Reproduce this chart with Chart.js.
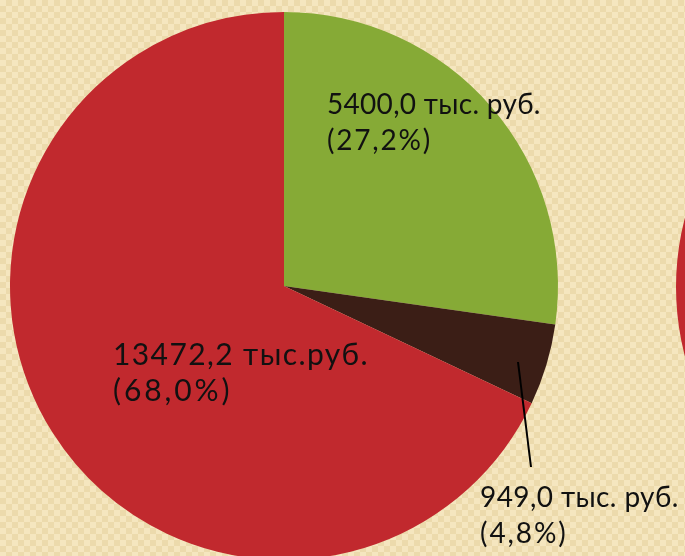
<!DOCTYPE html>
<html>
<head>
<meta charset="utf-8">
<script src="https://cdn.jsdelivr.net/npm/chart.js@4"></script>
<style>
  html, body {
    margin: 0;
    padding: 0;
    width: 685px;
    height: 556px;
    overflow: hidden;
    background-color: #F5E6BF;
    background-image:
      linear-gradient(45deg, #ECDAAC 25%, transparent 25%, transparent 75%, #ECDAAC 75%),
      linear-gradient(45deg, #ECDAAC 25%, transparent 25%, transparent 75%, #ECDAAC 75%);
    background-size: 12px 12px;
    background-position: 0 0, 6px 6px;
  }
  #pie { position: absolute; left: 0; top: 0; }
  #pie2 { position: absolute; left: 676px; top: 13px; }
</style>
</head>
<body>
<canvas id="pie" width="685" height="600"></canvas>
<canvas id="pie2" width="548" height="548"></canvas>
<script>
// данные
const categories = ["Зелёный", "Коричневый", "Красный"];
const values = [5400.0, 949.0, 13472.2];       // тыс. руб.
const shares = [27.2, 4.8, 68.0];              // %
const units = ["тыс. руб.", "тыс. руб.", "тыс.руб."];
const colors = ['#86AA36', '#3B1E16', '#C1292E'];

const fmt = v => v.toFixed(1).replace('.', ',');

// положение подписей
const labelPos = [
  { x: 327, y: 105, size: 28, sp: 0.3 },
  { x: 480, y: 498, size: 28, sp: 0.4 },
  { x: 113, y: 355, size: 30, sp: 1.4 }
];

const labelsPlugin = {
  id: 'sliceLabels',
  afterDraw(chart) {
    const ctx = chart.ctx;
    ctx.save();
    // выноска для маленького сектора
    ctx.strokeStyle = '#000';
    ctx.lineWidth = 2;
    ctx.beginPath();
    ctx.moveTo(518, 362);
    ctx.lineTo(531, 467);
    ctx.stroke();

    ctx.fillStyle = '#111';
    ctx.textBaseline = 'middle';
    ctx.textAlign = 'left';
    values.forEach((v, i) => {
      const p = labelPos[i];
      ctx.font = p.size + 'px Lato';
      ctx.letterSpacing = p.sp + 'px';
      ctx.fillText(fmt(v) + ' ' + units[i], p.x, p.y);
      ctx.letterSpacing = (p.sp + 1.5) + 'px';
      ctx.fillText('(' + fmt(shares[i]) + '%)', p.x, p.y + 36);
    });
    ctx.restore();
  }
};

new Chart(document.getElementById('pie').getContext('2d'), {
  type: 'pie',
  data: {
    labels: categories,
    datasets: [{
      data: values,
      backgroundColor: colors,
      borderWidth: 0
    }]
  },
  options: {
    responsive: false,
    animation: false,
    layout: { padding: { left: 10, right: 127, top: 12, bottom: 40 } },
    plugins: { legend: { display: false }, tooltip: { enabled: false } }
  },
  plugins: [labelsPlugin]
});

// край соседней диаграммы справа
new Chart(document.getElementById('pie2').getContext('2d'), {
  type: 'pie',
  data: {
    labels: ['Красный'],
    datasets: [{ data: [1], backgroundColor: ['#C1292E'], borderWidth: 0 }]
  },
  options: {
    responsive: false,
    animation: false,
    plugins: { legend: { display: false }, tooltip: { enabled: false } }
  }
});
</script>
</body>
</html>
